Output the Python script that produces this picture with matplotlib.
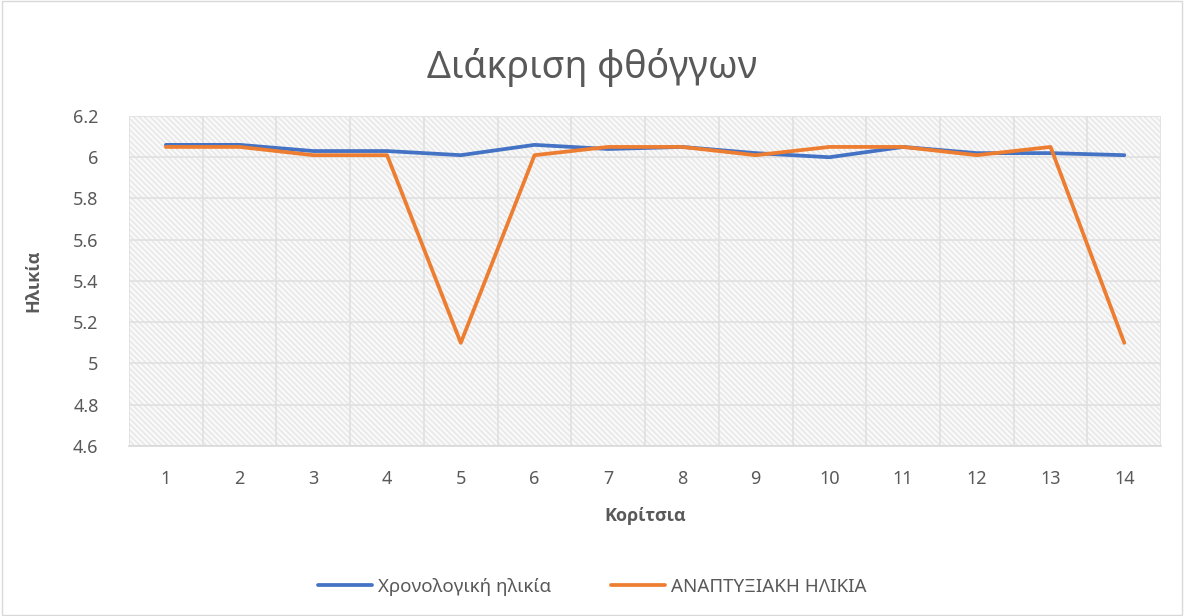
import matplotlib
matplotlib.use("Agg")
import matplotlib.pyplot as plt
import numpy as np
from matplotlib.patches import Rectangle

plt.rcParams['font.family'] = ['Noto Sans', 'DejaVu Sans']
plt.rcParams['hatch.color'] = '#e6e6e6'
plt.rcParams['hatch.linewidth'] = 1.0

categories = [str(i) for i in range(1, 15)]
chrono = [6.06, 6.06, 6.03, 6.03, 6.01, 6.06, 6.04, 6.05, 6.02, 6.00, 6.05, 6.02, 6.02, 6.01]
develop = [6.05, 6.05, 6.01, 6.01, 5.10, 6.01, 6.05, 6.05, 6.01, 6.05, 6.05, 6.01, 6.05, 5.10]
series_names = ["Χρονολογική ηλικία", "ΑΝΑΠΤΥΞΙΑΚΗ ΗΛΙΚΙΑ"]
title = "Διάκριση φθόγγων"
xlabel = "Κορίτσια"
ylabel = "Ηλικία"
yticks = [4.6, 4.8, 5.0, 5.2, 5.4, 5.6, 5.8, 6.0, 6.2]

txt = '#595959'
fig = plt.figure(figsize=(11.84, 6.16), dpi=100)
fig.patches.append(Rectangle((0.002, 0.002), 0.996, 0.996, transform=fig.transFigure,
                             fill=False, edgecolor='#d9d9d9', linewidth=1))
ax = fig.add_axes([0.109, 0.276, 0.8717, 0.5357])
ax.patch.set_facecolor('#f9f9f9')
ax.patch.set_hatch('\\\\\\\\\\\\')
ax.patch.set_edgecolor('#e6e6e6')

x = np.arange(1, len(categories) + 1)
ax.plot(x, chrono, color='#4472C4', lw=2.7, label=series_names[0], solid_capstyle='round', zorder=3)
ax.plot(x, develop, color='#ED7D31', lw=2.7, label=series_names[1], solid_capstyle='round', zorder=3)

ax.set_xlim(0.5, len(categories) + 0.5)
ax.set_ylim(4.6, 6.2)
ax.set_yticks(yticks)
ax.set_yticklabels([f"{v:g}" for v in yticks])
ax.set_xticks(x)
ax.set_xticklabels(categories)
ax.set_xticks(np.arange(0.5, len(categories) + 0.6, 0.5), minor=True)
ax.grid(axis='y', which='major', color='#e0e0e0', lw=1.2, zorder=1)
ax.grid(axis='x', which='minor', color='#e0e0e0', lw=1.2, zorder=1)
ax.set_axisbelow(True)
ax.tick_params(axis='both', which='both', length=0, labelsize=13, colors=txt)
ax.tick_params(axis='x', pad=17)
ax.tick_params(axis='y', pad=22)
for s in ['top', 'right', 'left']:
    ax.spines[s].set_visible(False)
ax.spines['bottom'].set_color('#d9d9d9')
ax.spines['bottom'].set_linewidth(1.2)

ax.set_xlabel(xlabel, fontsize=13, fontweight='bold', color=txt, labelpad=14,
              family=['Open Sans', 'DejaVu Sans'])
ax.set_ylabel(ylabel, fontsize=13, fontweight='bold', color=txt, labelpad=22,
              family=['Open Sans', 'DejaVu Sans'])
fig.text(0.5, 0.89, title, ha='center', va='center', fontsize=27, color=txt)

fig.legend(loc='center', bbox_to_anchor=(0.5, 0.047), ncol=2, frameon=False,
           fontsize=13.5, labelcolor=txt, handlelength=2.9, handletextpad=0.3, columnspacing=3.2)

fig.savefig("out.png", dpi=100)
